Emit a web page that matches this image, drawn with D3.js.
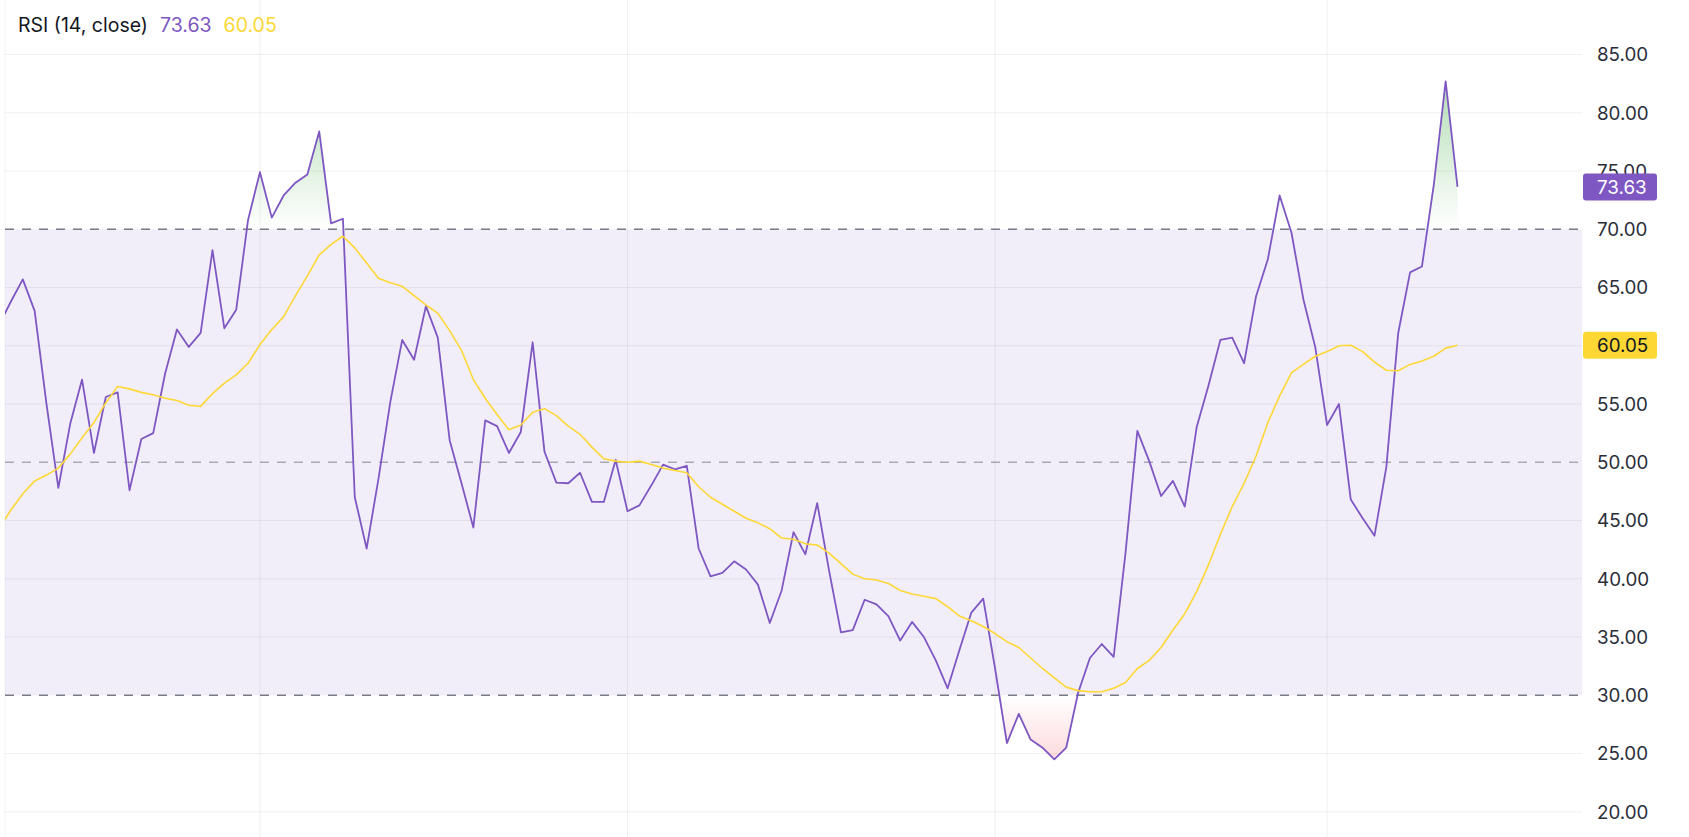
<!DOCTYPE html>
<html><head><meta charset="utf-8">
<script src="https://cdn.jsdelivr.net/npm/d3@7"></script>
<style>html,body{margin:0;padding:0;background:#fff;overflow:hidden}</style>
</head><body>
<svg id="chart" width="1689" height="837"></svg>
<script>
// ---- data ----
const title = "RSI (14, close)";
const rsi = [61.8,63.8,65.7,63.0,55.0,47.8,53.3,57.1,50.8,55.6,
  56.0,47.6,52.0,52.5,57.6,61.4,59.9,61.1,68.2,61.5,
  63.1,70.8,74.9,71.0,72.9,74.0,74.7,78.4,70.5,70.9,
  47.0,42.6,48.6,55.2,60.5,58.8,63.4,60.7,51.9,48.2,
  44.4,53.6,53.1,50.8,52.6,60.3,50.9,48.25,48.2,49.1,
  46.6,46.6,50.2,45.8,46.3,48.0,49.8,49.4,49.7,42.6,
  40.2,40.5,41.5,40.8,39.5,36.2,39.0,44.0,42.1,46.5,
  40.7,35.4,35.6,38.2,37.8,36.8,34.7,36.3,35.0,33.0,
  30.6,33.9,37.1,38.3,32.3,25.9,28.4,26.2,25.5,24.5,
  25.5,30.2,33.2,34.4,33.3,42.2,52.7,50.1,47.1,48.4,
  46.2,53.0,56.6,60.5,60.7,58.5,64.2,67.4,72.9,69.7,
  64.0,59.9,53.2,55.0,46.8,45.2,43.7,49.6,61.1,66.3,
  66.8,73.8,82.7,73.63];
const rsiMA = [44.3,45.9,47.3,48.4,48.9,49.5,50.7,52.1,53.4,55.1,
  56.5,56.3,56.0,55.8,55.5,55.3,54.9,54.8,55.9,56.8,
  57.5,58.5,60.1,61.4,62.5,64.3,66.0,67.8,68.7,69.4,
  68.4,67.1,65.8,65.4,65.1,64.3,63.5,62.8,61.3,59.6,
  57.1,55.5,54.1,52.8,53.2,54.3,54.6,54.0,53.1,52.4,
  51.3,50.3,50.1,50.0,50.1,49.8,49.5,49.3,49.1,47.9,
  47.0,46.4,45.8,45.2,44.8,44.3,43.5,43.4,43.0,42.9,
  42.2,41.3,40.4,40.0,39.9,39.6,39.0,38.7,38.5,38.3,
  37.6,36.8,36.4,35.9,35.3,34.6,34.1,33.2,32.3,31.5,
  30.7,30.4,30.3,30.3,30.6,31.1,32.3,33.0,34.1,35.6,
  37.0,38.9,41.2,43.8,46.2,48.2,50.5,53.4,55.7,57.7,
  58.4,59.1,59.5,60.0,60.05,59.5,58.6,57.9,57.85,58.4,
  58.7,59.1,59.8,60.05];
const yTicks = [20,25,30,35,40,45,50,55,60,65,70,75,80,85];
const bandUpper = 70, bandMiddle = 50, bandLower = 30;
const timeGridIdx = [22,53,84,112];

// ---- layout ----
const W = 1689, H = 837;
const plotL = 5, plotR = 1582;
const N = rsi.length;
const fmt = d3.format(".2f");
const x = d3.scaleLinear().domain([0.5, N - 1 + 10.5]).range([plotL, plotR]);
const y = d3.scaleLinear().domain([20, 85]).range([811.8, 54.5]);

const svg = d3.select("#chart");
const defs = svg.append("defs");
defs.append("clipPath").attr("id","plotClip").append("rect")
  .attr("x", plotL).attr("y", 0).attr("width", plotR - plotL).attr("height", H);
defs.append("clipPath").attr("id","obClip").append("rect")
  .attr("x", plotL).attr("y", 0).attr("width", plotR - plotL).attr("height", y(bandUpper));
defs.append("clipPath").attr("id","osClip").append("rect")
  .attr("x", plotL).attr("y", y(bandLower)).attr("width", plotR - plotL).attr("height", H - y(bandLower));

const gOb = defs.append("linearGradient").attr("id","obGrad").attr("gradientUnits","userSpaceOnUse")
  .attr("x1",0).attr("x2",0).attr("y1",y(100)).attr("y2",y(70));
gOb.append("stop").attr("offset",0).attr("stop-color","#4caf50").attr("stop-opacity",1);
gOb.append("stop").attr("offset",1).attr("stop-color","#4caf50").attr("stop-opacity",0);
const gOs = defs.append("linearGradient").attr("id","osGrad").attr("gradientUnits","userSpaceOnUse")
  .attr("x1",0).attr("x2",0).attr("y1",y(30)).attr("y2",y(0));
gOs.append("stop").attr("offset",0).attr("stop-color","#f23645").attr("stop-opacity",0);
gOs.append("stop").attr("offset",1).attr("stop-color","#f23645").attr("stop-opacity",1);

const plot = svg.append("g").attr("clip-path","url(#plotClip)");

// band background
plot.append("rect").attr("x", plotL).attr("width", plotR - plotL)
  .attr("y", y(bandUpper)).attr("height", y(bandLower) - y(bandUpper))
  .attr("fill", "rgba(126,87,194,0.1)");

// left border
svg.append("line").attr("x1", plotL).attr("x2", plotL).attr("y1", 0).attr("y2", H)
  .attr("stroke","rgba(42,46,57,0.06)").attr("stroke-width",1);

// grid
plot.append("g").selectAll("line").data(yTicks.filter(t => ![bandUpper,bandMiddle,bandLower].includes(t))).join("line")
  .attr("x1", plotL).attr("x2", plotR).attr("y1", d => y(d)).attr("y2", d => y(d))
  .attr("stroke","rgba(42,46,57,0.07)").attr("stroke-width",1);
plot.append("g").selectAll("line").data(timeGridIdx).join("line")
  .attr("x1", d => x(d)).attr("x2", d => x(d)).attr("y1", 0).attr("y2", H)
  .attr("stroke","rgba(42,46,57,0.07)").attr("stroke-width",1);

// band lines
plot.append("g").selectAll("line").data([bandUpper, bandMiddle, bandLower]).join("line")
  .attr("x1", plotL).attr("x2", plotR).attr("y1", d => y(d)).attr("y2", d => y(d))
  .attr("stroke", d => d === bandMiddle ? "rgba(120,123,134,0.6)" : "#787b86")
  .attr("stroke-width", 1.4).attr("stroke-dasharray","9,8");

// overbought / oversold fills
const idx = d3.range(N);
plot.append("path").datum(idx).attr("clip-path","url(#obClip)")
  .attr("fill","url(#obGrad)")
  .attr("d", d3.area().x(i => x(i)).y0(y(bandUpper)).y1(i => y(rsi[i])));
plot.append("path").datum(idx).attr("clip-path","url(#osClip)")
  .attr("fill","url(#osGrad)")
  .attr("d", d3.area().x(i => x(i)).y0(y(bandLower)).y1(i => y(rsi[i])));

// lines
plot.append("path").datum(idx).attr("fill","none").attr("stroke","#7e57c2")
  .attr("stroke-width",1.8).attr("stroke-linejoin","round")
  .attr("d", d3.line().x(i => x(i)).y(i => y(rsi[i])));
plot.append("path").datum(idx).attr("fill","none").attr("stroke","#fdd835")
  .attr("stroke-width",1.6).attr("stroke-linejoin","round")
  .attr("d", d3.line().x(i => x(i)).y(i => y(rsiMA[i])));

// y axis labels
const font = "Inter, 'Noto Sans', sans-serif";
svg.append("g").selectAll("text").data(yTicks).join("text")
  .attr("x", 1597).attr("y", d => y(d)).attr("dy","0.36em")
  .attr("font-family", font).attr("font-size", 18.8).attr("fill","#2a2e39")
  .text(d => fmt(d));

// last value badges
function badge(v, bg, fg) {
  const g = svg.append("g");
  g.append("rect").attr("x", 1583).attr("y", y(v) - 13.5).attr("width", 74).attr("height", 27)
    .attr("rx", 3).attr("fill", bg);
  g.append("text").attr("x", 1597).attr("y", y(v)).attr("dy","0.36em")
    .attr("font-family", font).attr("font-size", 18.8).attr("fill", fg).text(fmt(v));
}
badge(rsiMA[N-1], "#fdd835", "#131722");
badge(rsi[N-1], "#7e57c2", "#ffffff");

// header legend
const hdr = svg.append("g").attr("font-family", font).attr("font-size", 19.5);
const t1 = hdr.append("text").attr("x", 18).attr("y", 32).attr("fill","#131722").text(title);
let cx = 18 + t1.node().getComputedTextLength() + 12;
const t2 = hdr.append("text").attr("x", cx).attr("y", 32).attr("fill","#7e57c2").text(fmt(rsi[N-1]));
cx += t2.node().getComputedTextLength() + 12;
hdr.append("text").attr("x", cx).attr("y", 32).attr("fill","#fdd835").text(fmt(rsiMA[N-1]));
</script>
</body></html>
